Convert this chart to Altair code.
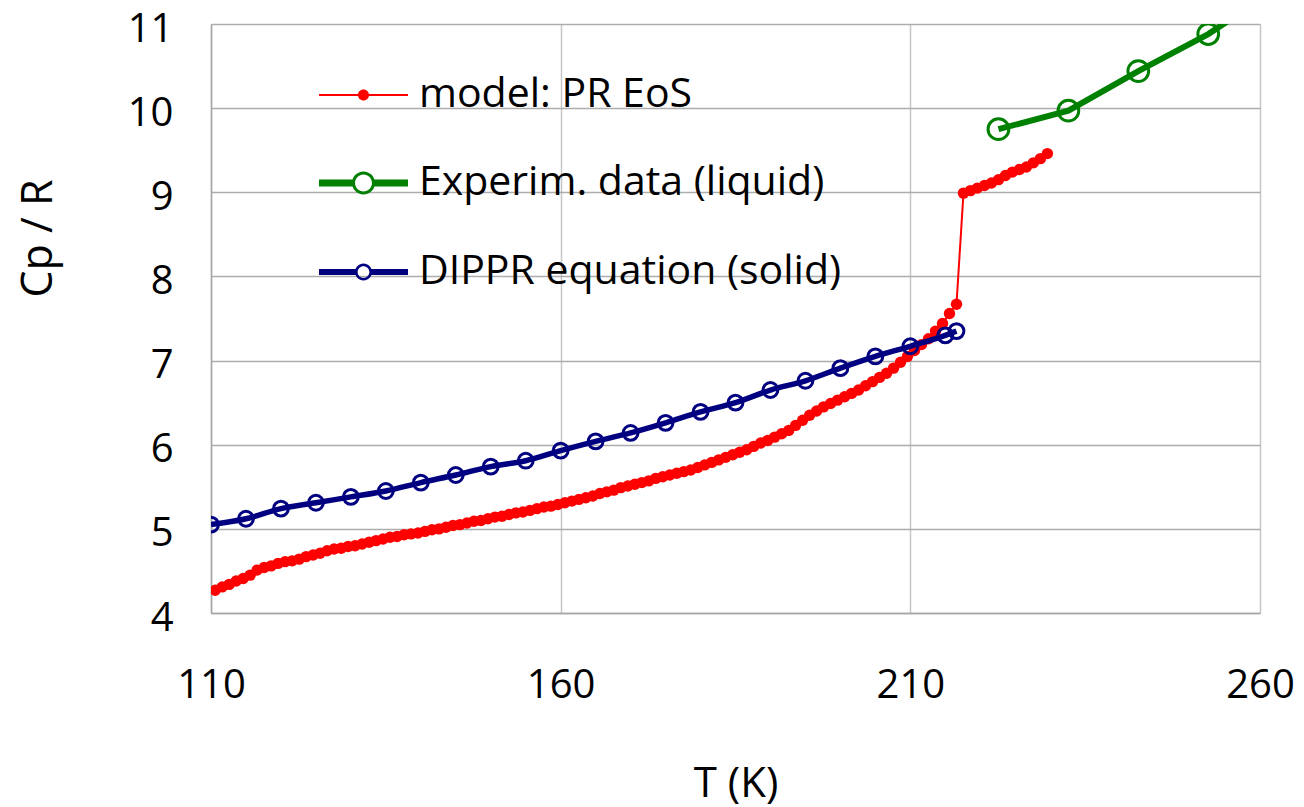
import altair as alt
import pandas as pd

# ---------------- data ----------------
# model: PR EoS (red) - solid branch then liquid branch
pr_T = [
    110.6, 111.6, 112.6, 113.6, 114.6, 115.6, 116.6, 117.6, 118.6, 119.6,
    120.6, 121.6, 122.6, 123.6, 124.6, 125.6, 126.6, 127.6, 128.6, 129.6,
    130.6, 131.6, 132.6, 133.6, 134.6, 135.6, 136.6, 137.6, 138.6, 139.6,
    140.6, 141.6, 142.6, 143.6, 144.6, 145.6, 146.6, 147.6, 148.6, 149.6,
    150.6, 151.6, 152.6, 153.6, 154.6, 155.6, 156.6, 157.6, 158.6, 159.6,
    160.6, 161.6, 162.6, 163.6, 164.6, 165.6, 166.6, 167.6, 168.6, 169.6,
    170.6, 171.6, 172.6, 173.6, 174.6, 175.6, 176.6, 177.6, 178.6, 179.6,
    180.6, 181.6, 182.6, 183.6, 184.6, 185.6, 186.6, 187.6, 188.6, 189.6,
    190.6, 191.6, 192.6, 193.6, 194.6, 195.6, 196.6, 197.6, 198.6, 199.6,
    200.6, 201.6, 202.6, 203.6, 204.6, 205.6, 206.6, 207.6, 208.6, 209.6,
    210.6, 211.6, 212.6, 213.6, 214.6, 215.6, 216.6,
    217.6, 218.6, 219.6, 220.6, 221.6, 222.6, 223.6, 224.6, 225.6, 226.6,
    227.6, 228.6, 229.6,
]
pr_cp = [
    4.27, 4.31, 4.34, 4.38, 4.41, 4.45, 4.51, 4.54, 4.56, 4.59,
    4.61, 4.62, 4.64, 4.67, 4.69, 4.71, 4.74, 4.76, 4.77, 4.79,
    4.80, 4.82, 4.84, 4.86, 4.88, 4.90, 4.91, 4.93, 4.94, 4.95,
    4.97, 4.99, 5.00, 5.02, 5.04, 5.05, 5.07, 5.09, 5.10, 5.12,
    5.14, 5.15, 5.17, 5.19, 5.20, 5.22, 5.24, 5.26, 5.27, 5.29,
    5.31, 5.33, 5.35, 5.37, 5.39, 5.42, 5.44, 5.46, 5.49, 5.51,
    5.53, 5.55, 5.57, 5.60, 5.62, 5.64, 5.66, 5.68, 5.70, 5.73,
    5.76, 5.79, 5.82, 5.85, 5.88, 5.91, 5.94, 5.98, 6.02, 6.05,
    6.09, 6.13, 6.17, 6.23, 6.29, 6.35, 6.40, 6.45, 6.49, 6.53,
    6.57, 6.61, 6.65, 6.70, 6.75, 6.80, 6.85, 6.91, 6.98, 7.05,
    7.12, 7.19, 7.26, 7.35, 7.44, 7.56, 7.67,
    8.99, 9.02, 9.05, 9.08, 9.11, 9.15, 9.20, 9.24, 9.27, 9.30,
    9.35, 9.40, 9.46,
]

# DIPPR equation (solid) - navy
dippr_T = [110, 115, 120, 125, 130, 135, 140, 145, 150, 155, 160, 165,
           170, 175, 180, 185, 190, 195, 200, 205, 210, 215, 216.6]
dippr_cp = [5.05, 5.12, 5.24, 5.31, 5.38, 5.45, 5.55, 5.64, 5.74, 5.81, 5.93, 6.04,
            6.14, 6.26, 6.39, 6.50, 6.65, 6.76, 6.91, 7.05, 7.17, 7.30, 7.35]

# Experimental data (liquid) - green
exp_T = [222.6, 232.6, 242.6, 252.6, 262.6]
exp_cp = [9.75, 9.97, 10.44, 10.88, 11.43]

series_names = ["model: PR EoS", "Experim. data (liquid)", "DIPPR equation (solid)"]
series_colors = ["#FF0000", "#008000", "#000080"]

x_ticks = [110, 160, 210, 260]
y_ticks = [4, 5, 6, 7, 8, 9, 10, 11]

# ---------------- tables ----------------
pr_df = pd.DataFrame({"T": pr_T, "cp": pr_cp, "series": series_names[0]})
exp_df = pd.DataFrame({"T": exp_T, "cp": exp_cp, "series": series_names[1]})
dippr_df = pd.DataFrame({"T": dippr_T, "cp": dippr_cp, "series": series_names[2]})

FONT = "Open Sans"

x_enc = alt.X(
    "T:Q",
    scale=alt.Scale(domain=[110, 260], nice=False, zero=False),
    axis=alt.Axis(
        values=x_ticks, title="T (K)", grid=True, gridColor="#C6C6C6", gridWidth=1.5,
        domainColor="#A6A6A6", domainWidth=1.5, tickSize=0,
        labelFont=FONT, labelFontSize=40, labelColor="#000000", labelPadding=52,
        labelFlush=False,
        titleFont=FONT, titleFontSize=42, titleFontWeight="normal", titleColor="#000000",
        titleY=183, titleBaseline="alphabetic",
    ),
)
y_enc = alt.Y(
    "cp:Q",
    scale=alt.Scale(domain=[4, 11], nice=False, zero=False),
    axis=alt.Axis(
        values=y_ticks, title="Cp / R", grid=True, gridColor="#ADADAD", gridWidth=1.5,
        domainColor="#A6A6A6", domainWidth=1.5, tickSize=0,
        labelFont=FONT, labelFontSize=40, labelColor="#000000", labelPadding=38,
        labelFlush=False, labelOffset=5,
        titleFont=FONT, titleFontSize=43, titleFontWeight="normal", titleColor="#000000",
        titleAngle=270, titleX=-160, titleY=214, titleAlign="center",
        titleBaseline="alphabetic",
    ),
)

R = 44.5  # half width of legend symbol in px


def legend_for(idx, path, ytop):
    return alt.Legend(
        orient="none", legendX=108, legendY=ytop, title=None, padding=0,
        symbolType=path, symbolSize=(2 * R) ** 2, symbolFillColor=series_colors[idx],
        symbolStrokeWidth=0, symbolOpacity=1,
        labelFont=FONT, labelFontSize=41, labelColor="#000000", labelOffset=11,
        labelLimit=0,
    )


def ring(ro, ri):
    return (f"M{ro},0 A{ro},{ro} 0 1,1 {-ro},0 A{ro},{ro} 0 1,1 {ro},0 Z "
            f"M{ri},0 A{ri},{ri} 0 1,0 {-ri},0 A{ri},{ri} 0 1,0 {ri},0 Z")


def bar(x0, x1, h):
    return f"M{x0},{-h} L{x1},{-h} L{x1},{h} L{x0},{h} Z"


red_path = bar(-1, 1, 1.0 / R) + " M0.124,0 A0.124,0.124 0 1,1 -0.124,0 A0.124,0.124 0 1,1 0.124,0 Z"
green_path = bar(-1, -0.22, 3.5 / R) + " " + bar(0.22, 1, 3.5 / R) + " " + ring(0.258, 0.19)
blue_path = bar(-1, -0.16, 2.9 / R) + " " + bar(0.16, 1, 2.9 / R) + " " + ring(0.19, 0.132)

red_line = alt.Chart(pr_df).mark_line(clip=True).encode(
    x=x_enc, y=y_enc,
    color=alt.Color("series:N", scale=alt.Scale(domain=[series_names[0]], range=[series_colors[0]]),
                    legend=legend_for(0, red_path, 26.5)),
    strokeWidth=alt.value(2),
)
red_pts = alt.Chart(pr_df).mark_point(filled=True, clip=True, shape="circle", opacity=1).encode(
    x=x_enc, y=y_enc, color=alt.value(series_colors[0]), size=alt.value(130),
)

green_line = alt.Chart(exp_df).mark_line(clip=True).encode(
    x=x_enc, y=y_enc,
    color=alt.Color("series:N", scale=alt.Scale(domain=[series_names[1]], range=[series_colors[1]]),
                    legend=legend_for(1, green_path, 114.5)),
    strokeWidth=alt.value(6),
)
green_pts = alt.Chart(exp_df).mark_point(filled=False, clip=True, shape="circle", opacity=1).encode(
    x=x_enc, y=y_enc, color=alt.value(series_colors[1]), size=alt.value(430),
    strokeWidth=alt.value(3),
)

blue_line = alt.Chart(dippr_df).mark_line(clip=True, interpolate="monotone").encode(
    x=x_enc, y=y_enc,
    color=alt.Color("series:N", scale=alt.Scale(domain=[series_names[2]], range=[series_colors[2]]),
                    legend=legend_for(2, blue_path, 203.5)),
    strokeWidth=alt.value(5.5),
)
blue_pts = alt.Chart(dippr_df).mark_point(filled=False, clip=True, shape="circle", opacity=1).encode(
    x=x_enc, y=y_enc, color=alt.value(series_colors[2]), size=alt.value(220),
    strokeWidth=alt.value(3),
)

chart = (
    alt.layer(red_line, red_pts, green_line, green_pts, blue_line, blue_pts)
    .resolve_scale(color="independent")
    .properties(
        width=1049, height=589,
        autosize=alt.AutoSizeParams(type="none"),
        padding={"left": 211, "top": 24, "right": 44, "bottom": 194},
        background="#FFFFFF",
    )
    .configure_view(stroke=None)
)

chart.save("out.html", embed_options={"renderer": "svg", "actions": False})
